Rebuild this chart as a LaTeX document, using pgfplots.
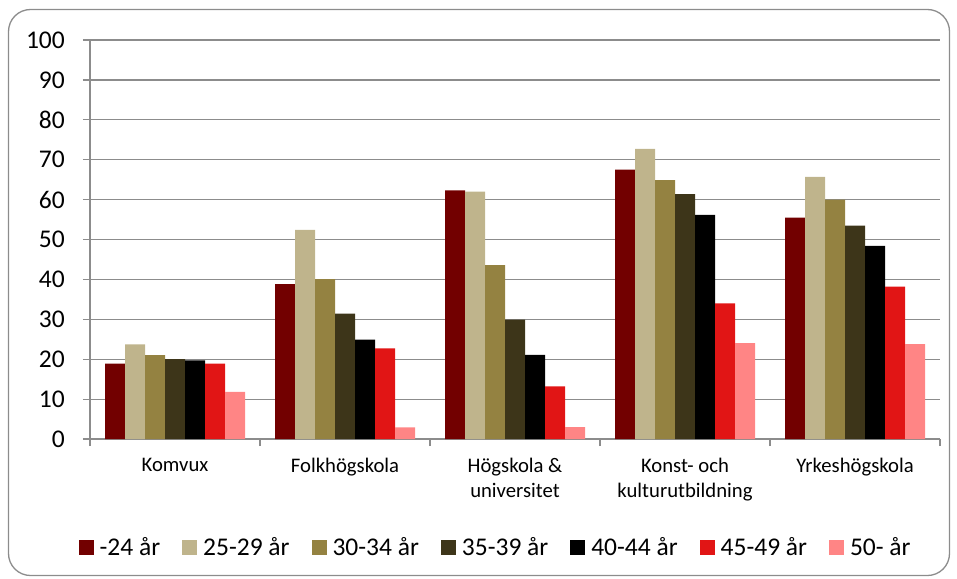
\documentclass[border=0pt]{standalone}
\usepackage{fontspec}
\setmainfont{Carlito}
\usepackage{pgfplots}
\pgfplotsset{compat=1.18}
\definecolor{cA}{HTML}{720000}
\definecolor{cB}{HTML}{BFB48C}
\definecolor{cC}{HTML}{948241}
\definecolor{cD}{HTML}{3D3519}
\definecolor{cE}{HTML}{000000}
\definecolor{cF}{HTML}{E11515}
\definecolor{cG}{HTML}{FF8585}
\definecolor{gridgray}{HTML}{8C8C8C}
\definecolor{framegray}{HTML}{8C8C8C}
\begin{document}
\begin{tikzpicture}
\useasboundingbox (0pt,0pt) rectangle (957pt,-578pt);
\draw[framegray, line width=1.3pt, rounded corners=22pt] (8.5pt,-9.5pt) rectangle (949.5pt,-575.5pt);
\begin{axis}[
  at={(90pt,-439pt)}, anchor=south west,
  scale only axis, width=850pt, height=399pt,
  xmin=-0.5, xmax=4.5, ymin=0, ymax=100,
  ybar=0pt, bar width=20pt,
  axis x line=bottom, axis y line=left,
  axis line style={-, gridgray, line width=1.2pt},
  tick align=outside, major tick length=7pt,
  tick style={gridgray, line width=1.2pt},
  ytick={0,10,...,100},
  ymajorgrids, grid style={gridgray, line width=1.2pt},
  xtick={-0.5,0.5,1.5,2.5,3.5,4.5}, xticklabels={},
  extra x ticks={0,1,2,3,4},
  extra x tick labels={Komvux, Folkhögskola, {Högskola \&\\universitet}, {Konst- och\\kulturutbildning}, Yrkeshögskola},
  extra x tick style={tick style={draw=none}, grid=none,
    xticklabel style={font=\fontsize{20.7}{24.5}\selectfont, align=center, anchor=north, inner sep=0pt, yshift=-12pt}},
  /pgf/number format/assume math mode=true,
  yticklabel style={font=\fontsize{25.5}{30}\selectfont, anchor=east, inner sep=0pt, xshift=-18pt},
  legend style={at={(0.476,-0.2707)}, anchor=center, draw=none, fill=none,
    font=\fontsize{25.5}{30}\selectfont,
    legend columns=7,
    nodes={inner sep=0pt, anchor=west},
    /tikz/every odd column/.append style={column sep=6pt},
    /tikz/every even column/.append style={column sep=22pt}},
  legend image code/.code={\fill[#1] (0pt,-7.5pt) rectangle (15pt,7.5pt);},
  every axis plot/.append style={draw=none},
]
\addplot[fill=cA] coordinates {(0,18.9) (1,38.8) (2,62.3) (3,67.5) (4,55.5)};
\addplot[fill=cB] coordinates {(0,23.7) (1,52.4) (2,62.0) (3,72.7) (4,65.7)};
\addplot[fill=cC] coordinates {(0,21.0) (1,40.1) (2,43.6) (3,64.9) (4,60.0)};
\addplot[fill=cD] coordinates {(0,20.0) (1,31.4) (2,29.9) (3,61.4) (4,53.5)};
\addplot[fill=cE] coordinates {(0,19.7) (1,24.9) (2,21.1) (3,56.2) (4,48.4)};
\addplot[fill=cF] coordinates {(0,18.9) (1,22.7) (2,13.2) (3,34.0) (4,38.2)};
\addplot[fill=cG] coordinates {(0,11.8) (1,2.9) (2,3.0) (3,24.0) (4,23.8)};
\legend{-24 år, 25-29 år, 30-34 år, 35-39 år, 40-44 år, 45-49 år, 50- år}
\end{axis}
\end{tikzpicture}
\end{document}
